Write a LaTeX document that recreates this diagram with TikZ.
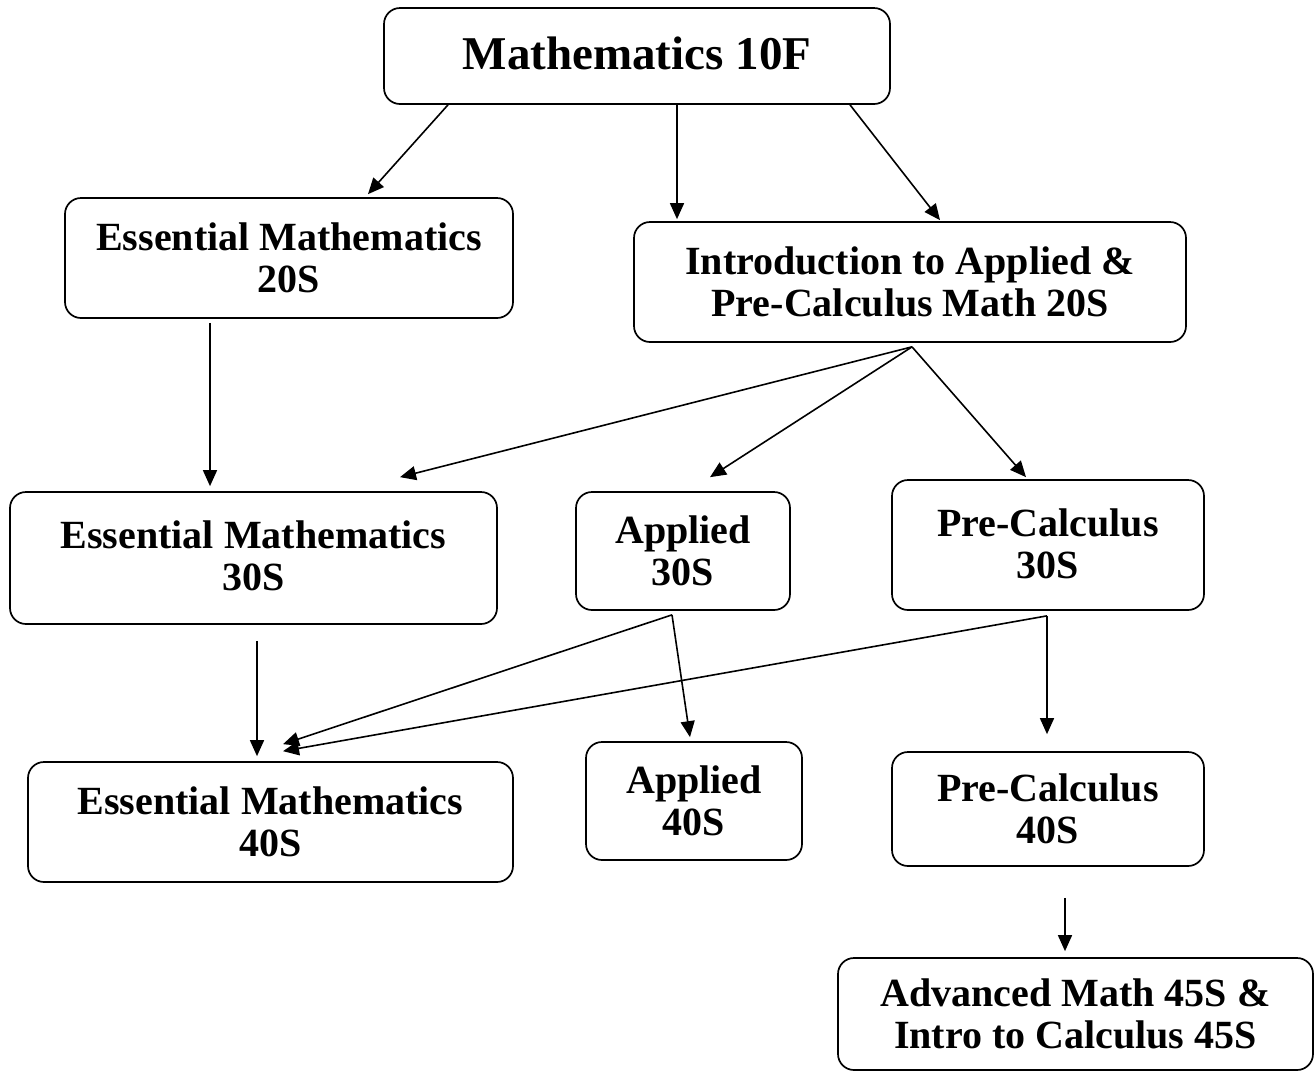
\documentclass[tikz,border=0pt]{standalone}
\usepackage{fontspec}
\setmainfont{Liberation Serif}
\usetikzlibrary{arrows.meta}
\begin{document}
\begin{tikzpicture}[x=1pt,y=-1pt,
  cbox/.style={draw, rounded corners=16pt, line width=1.7pt, align=center, inner sep=0pt,
    font=\bfseries\fontsize{40}{42}\selectfont},
  arr/.style={line width=1.6pt, -{Triangle[length=16pt,width=14pt]}}]
\useasboundingbox (0,0) rectangle (1315,1072);
\node[cbox, minimum width=506pt, minimum height=96pt, font=\bfseries\fontsize{47}{50}\selectfont] (m10) at (637,56) {\raisebox{6pt}{Mathematics 10F}};
\node[cbox, minimum width=448pt, minimum height=120pt] (e20) at (289,258) {Essential Mathematics\\20S};
\node[cbox, minimum width=552pt, minimum height=120pt] (intro) at (910,282) {Introduction to Applied \&\\Pre-Calculus Math 20S};
\node[cbox, minimum width=487pt, minimum height=132pt] (e30) at (253.5,558) {\raisebox{4pt}{Essential Mathematics}\\\raisebox{4pt}{30S}};
\node[cbox, minimum width=214pt, minimum height=118pt] (a30) at (683,551) {Applied\\30S};
\node[cbox, minimum width=312pt, minimum height=130pt] (p30) at (1048,545) {\raisebox{3pt}{Pre-Calculus}\\\raisebox{3pt}{30S}};
\node[cbox, minimum width=485pt, minimum height=120pt] (e40) at (270.5,822) {Essential Mathematics\\40S};
\node[cbox, minimum width=216pt, minimum height=118pt] (a40) at (694,801) {Applied\\40S};
\node[cbox, minimum width=312pt, minimum height=114pt] (p40) at (1048,809) {Pre-Calculus\\40S};
\node[cbox, minimum width=475pt, minimum height=112pt] (adv) at (1075.5,1014) {Advanced Math 45S \&\\Intro to Calculus 45S};

\draw[arr] ([xshift=-189pt]m10.south) -- ([xshift=79pt,yshift=3pt]e20.north);
\draw[arr] ([xshift=40pt]m10.south) -- ([xshift=-233pt,yshift=2pt]intro.north);
\draw[arr] ([xshift=213pt]m10.south) -- ([xshift=30pt,yshift=1pt]intro.north);
\draw[arr] ([xshift=-79pt,yshift=-4pt]e20.south) -- ([xshift=-43.5pt,yshift=5pt]e30.north);
\draw[arr] ([xshift=2pt,yshift=-4pt]intro.south) -- ([xshift=146.5pt,yshift=14pt]e30.north);
\draw[arr] ([xshift=2pt,yshift=-4pt]intro.south) -- ([xshift=27pt,yshift=14pt]a30.north);
\draw[arr] ([xshift=2pt,yshift=-4pt]intro.south) -- ([xshift=-22pt,yshift=2pt]p30.north);
\draw[arr] ([xshift=3.5pt,yshift=-16pt]e30.south) -- ([xshift=-13.5pt,yshift=5pt]e40.north);
\draw[arr] ([xshift=-11pt,yshift=-4pt]a30.south) -- ([xshift=12.5pt,yshift=17pt]e40.north);
\draw[arr] ([xshift=-11pt,yshift=-4pt]a30.south) -- ([xshift=-4pt,yshift=4pt]a40.north);
\draw[arr] ([xshift=-1pt,yshift=-5pt]p30.south) -- ([xshift=12.5pt,yshift=10pt]e40.north);
\draw[arr] ([xshift=-1pt,yshift=-5pt]p30.south) -- ([xshift=-1pt,yshift=17pt]p40.north);
\draw[arr] ([xshift=17pt,yshift=-31pt]p40.south) -- ([xshift=-10.5pt,yshift=6pt]adv.north);
\end{tikzpicture}
\end{document}
